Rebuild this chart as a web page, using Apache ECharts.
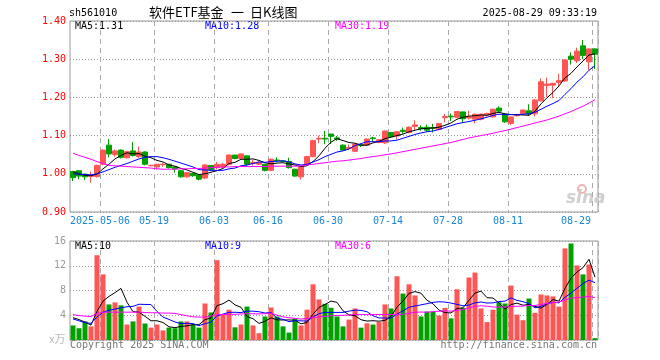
<!DOCTYPE html>
<html><head><meta charset="utf-8">
<script src="https://cdn.jsdelivr.net/npm/echarts@6/dist/echarts.min.js"></script>
<style>html,body{margin:0;padding:0;background:#fff}#c{width:660px;height:360px}</style>
</head><body><div id="c"></div>
<script>
var dates = ['2025-04-24','2025-04-25','2025-04-28','2025-04-29','2025-04-30',
'2025-05-06','2025-05-07','2025-05-08','2025-05-09',
'2025-05-12','2025-05-13','2025-05-14','2025-05-15','2025-05-16',
'2025-05-19','2025-05-20','2025-05-21','2025-05-22','2025-05-23',
'2025-05-26','2025-05-27','2025-05-28','2025-05-29','2025-05-30',
'2025-06-03','2025-06-04','2025-06-05','2025-06-06',
'2025-06-09','2025-06-10','2025-06-11','2025-06-12','2025-06-13',
'2025-06-16','2025-06-17','2025-06-18','2025-06-19','2025-06-20',
'2025-06-23','2025-06-24','2025-06-25','2025-06-26','2025-06-27',
'2025-06-30','2025-07-01','2025-07-02','2025-07-03','2025-07-04',
'2025-07-07','2025-07-08','2025-07-09','2025-07-10','2025-07-11',
'2025-07-14','2025-07-15','2025-07-16','2025-07-17','2025-07-18',
'2025-07-21','2025-07-22','2025-07-23','2025-07-24','2025-07-25',
'2025-07-28','2025-07-29','2025-07-30','2025-07-31','2025-08-01',
'2025-08-04','2025-08-05','2025-08-06','2025-08-07','2025-08-08',
'2025-08-11','2025-08-12','2025-08-13','2025-08-14','2025-08-15',
'2025-08-18','2025-08-19','2025-08-20','2025-08-21','2025-08-22',
'2025-08-25','2025-08-26','2025-08-27','2025-08-28','2025-08-29'];

var openP = [1.006,1.008,0.999,0.993,0.993, 1.025,1.075,1.050,1.062, 1.042,1.060,1.045,1.057,1.021,
1.018,1.024,1.025,1.018,1.008, 0.992,1.001,0.997,0.989,1.022, 1.016,1.018,1.025,1.049,
1.040,1.047,1.027,1.025,1.025, 1.009,1.036,1.034,1.032,1.012, 0.992,1.025,1.045,1.091,1.093,
1.104,1.094,1.075,1.066,1.059, 1.076,1.075,1.094,1.082,1.081, 1.108,1.099,1.114,1.108,1.124,
1.121,1.122,1.121,1.116,1.147, 1.151,1.148,1.162,1.146,1.143, 1.143,1.154,1.149,1.172,1.156,
1.132,1.152,1.157,1.165,1.157, 1.191,1.231,1.232,1.239,1.243, 1.308,1.296,1.335,1.293,1.327];
var closeP = [0.990,0.994,0.992,0.997,1.022, 1.062,1.052,1.060,1.043, 1.058,1.048,1.057,1.025,1.022,
1.025,1.025,1.016,1.013,0.992, 1.003,0.995,0.986,1.023,1.011, 1.025,1.025,1.049,1.040,
1.052,1.025,1.030,1.030,1.009, 1.038,1.034,1.032,1.016,0.994, 1.018,1.045,1.087,1.093,1.091,
1.098,1.091,1.062,1.069,1.078, 1.074,1.091,1.092,1.089,1.112, 1.097,1.110,1.111,1.122,1.128,
1.118,1.114,1.119,1.132,1.150, 1.149,1.163,1.144,1.149,1.156, 1.156,1.158,1.169,1.164,1.136,
1.149,1.155,1.167,1.157,1.193, 1.241,1.235,1.237,1.244,1.298, 1.300,1.321,1.310,1.327,1.313];
var lowP = [0.981,0.986,0.984,0.977,0.990, 1.022,1.043,1.045,1.040, 1.040,1.045,1.042,1.022,1.020,
1.011,1.018,1.014,1.003,0.990, 0.990,0.992,0.983,0.986,1.008, 1.012,1.015,1.022,1.038,
1.037,1.018,1.022,1.023,1.006, 1.007,1.030,1.030,1.014,0.992, 0.985,1.023,1.043,1.080,1.077,
1.078,1.086,1.060,1.062,1.057, 1.070,1.073,1.085,1.080,1.078, 1.095,1.090,1.105,1.106,1.112,
1.113,1.110,1.108,1.114,1.135, 1.138,1.146,1.135,1.142,1.132, 1.140,1.150,1.147,1.162,1.133,
1.128,1.150,1.155,1.153,1.150, 1.189,1.200,1.198,1.230,1.241, 1.286,1.290,1.300,1.272,1.274];
var highP = [1.008,1.010,1.001,1.006,1.024, 1.064,1.091,1.064,1.064, 1.060,1.083,1.071,1.059,1.024,
1.026,1.028,1.026,1.019,1.010, 1.004,1.002,0.999,1.025,1.023, 1.031,1.028,1.051,1.050,
1.053,1.048,1.036,1.032,1.026, 1.040,1.043,1.036,1.042,1.013, 1.019,1.047,1.089,1.100,1.112,
1.105,1.099,1.077,1.077,1.079, 1.079,1.092,1.097,1.091,1.113, 1.110,1.111,1.121,1.124,1.140,
1.127,1.129,1.131,1.133,1.157, 1.158,1.164,1.163,1.165,1.158, 1.158,1.160,1.170,1.177,1.157,
1.150,1.157,1.168,1.182,1.195, 1.250,1.252,1.238,1.262,1.300, 1.318,1.330,1.350,1.328,1.328];

var ma5 = [1.005,1.000,0.996,0.995,0.999, 1.013,1.025,1.039,1.048, 1.055,1.052,1.053,1.046,1.042,
1.035,1.031,1.023,1.020,1.014, 1.010,1.004,0.998,1.000,1.004, 1.008,1.014,1.027,1.030,
1.038,1.038,1.039,1.035,1.029, 1.026,1.028,1.029,1.026,1.023, 1.019,1.021,1.032,1.047,1.067,
1.083,1.092,1.087,1.082,1.080, 1.075,1.075,1.081,1.085,1.092, 1.096,1.100,1.104,1.110,1.114,
1.118,1.119,1.120,1.122,1.127, 1.133,1.143,1.148,1.151,1.152, 1.154,1.153,1.158,1.161,1.157,
1.155,1.155,1.154,1.153,1.164, 1.183,1.199,1.213,1.230,1.251, 1.263,1.280,1.295,1.311,1.314];
var ma10 = [1.000,0.999,0.998,0.997,1.000, 1.005,1.011,1.017,1.022, 1.027,1.033,1.039,1.043,1.045,
1.045,1.042,1.038,1.033,1.028, 1.023,1.018,1.011,1.010,1.009, 1.009,1.009,1.013,1.015,
1.021,1.023,1.027,1.031,1.030, 1.032,1.033,1.034,1.031,1.026, 1.023,1.025,1.031,1.037,1.045,
1.051,1.057,1.060,1.065,1.074, 1.079,1.084,1.084,1.084,1.086, 1.086,1.088,1.093,1.098,1.103,
1.107,1.110,1.112,1.116,1.121, 1.126,1.131,1.134,1.137,1.140, 1.144,1.148,1.153,1.156,1.155,
1.155,1.154,1.156,1.157,1.161, 1.169,1.177,1.184,1.192,1.208, 1.223,1.240,1.254,1.271,1.283];
var ma30 = [1.054,1.048,1.043,1.038,1.032, 1.027,1.022,1.021,1.020, 1.019,1.018,1.017,1.016,1.015,
1.013,1.012,1.012,1.012,1.013, 1.013,1.014,1.014,1.015,1.016, 1.017,1.018,1.018,1.019,
1.019,1.019,1.019,1.019,1.019, 1.020,1.020,1.020,1.020,1.020, 1.021,1.023,1.025,1.027,1.029,
1.031,1.033,1.034,1.036,1.038, 1.040,1.043,1.045,1.047,1.050, 1.052,1.055,1.058,1.061,1.064,
1.067,1.070,1.073,1.076,1.079, 1.082,1.086,1.090,1.094,1.097, 1.100,1.103,1.106,1.110,1.113,
1.117,1.121,1.125,1.129,1.133, 1.137,1.141,1.146,1.151,1.157, 1.163,1.170,1.177,1.185,1.194];

var volume = [2.35,1.9,3.0,2.2,13.7, 10.6,5.75,6.07,5.6, 2.5,3.0,5.4,2.67,2.0,
2.5,1.55,2.0,1.9,3.0, 3.0,2.5,2.0,5.9,4.45, 12.9,4.1,4.9,2.05,
2.5,5.4,2.35,1.1,3.8, 5.25,3.8,2.2,1.2,3.5, 2.35,4.9,9.0,6.55,5.85,
5.2,3.8,2.2,3.3,5.1, 2.0,2.7,2.5,2.9,5.75, 5.1,10.3,7.5,9.0,7.2,
3.8,4.6,4.6,3.95,5.2, 3.5,8.2,5.2,10.1,10.9, 5.1,2.9,4.9,6.1,5.9,
8.8,4.1,3.2,6.7,4.4, 7.35,7.2,7.05,5.4,14.8, 15.6,12.05,10.6,12.2,0.3];
var vma5 = [3.6,3.3,2.9,2.4,4.63, 6.28,7.05,7.66,8.34, 6.10,4.58,4.51,3.83,3.11,
3.11,2.82,2.14,1.99,2.19, 2.29,2.48,2.48,3.28,3.57, 5.55,5.87,6.45,5.68,
5.29,3.79,3.44,2.68,3.03, 3.58,3.26,3.23,3.25,3.19, 2.61,2.83,4.19,5.26,5.73,
6.30,6.08,4.72,4.07,3.92, 3.28,3.06,3.12,3.04,3.17, 3.79,5.31,6.31,7.53,7.82,
7.56,6.42,5.84,4.83,4.43, 4.37,5.09,5.21,6.44,7.58, 7.90,6.84,6.78,5.98,4.98,
5.72,5.96,5.62,5.74,5.44, 5.15,5.77,6.54,6.28,8.36, 10.01,10.98,11.69,13.05,10.15];
var vma10 = [3.4,3.1,2.8,2.7,3.7, 4.5,4.8,5.0,5.2, 5.37,5.43,5.78,5.75,5.73,
4.61,3.70,3.33,2.91,2.65, 2.70,2.65,2.31,2.64,2.88, 3.92,4.18,4.47,4.48,
4.43,4.67,4.66,4.57,4.36, 4.44,3.53,3.34,2.97,3.11, 3.10,3.05,3.71,4.26,4.46,
4.46,4.46,4.46,4.67,4.83, 4.79,4.57,3.92,3.56,3.55, 3.54,4.19,4.72,5.29,5.50,
5.68,5.87,6.08,6.18,6.13, 5.97,5.76,5.53,5.64,6.01, 6.14,5.97,6.00,6.21,6.28,
6.81,6.40,6.20,5.86,5.21, 5.44,5.87,6.08,6.01,6.90, 7.58,8.38,9.12,9.67,9.26];
var vma30 = [4.1,3.95,3.85,3.8,4.3, 4.5,4.5,4.5,4.5, 4.5,4.5,4.5,4.45,4.4,
4.4,4.35,4.35,4.3,4.1, 3.9,3.75,3.7,3.7,3.85, 4.1,4.1,4.15,4.15,
4.2,4.25,4.25,4.22,4.25, 4.35,4.02,3.74,3.59,3.50, 3.39,3.47,3.67,3.71,3.82,
3.92,3.97,3.99,4.03,4.14, 4.11,4.10,4.10,4.13,4.12, 4.14,4.06,4.17,4.31,4.48,
4.52,4.49,4.57,4.66,4.71, 4.65,4.80,4.90,5.20,5.44, 5.53,5.47,5.33,5.32,5.32,
5.44,5.45,5.48,5.59,5.57, 5.75,5.90,6.05,6.13,6.44, 6.79,6.84,6.95,7.05,6.82];

var tickDates = ['2025-05-06','2025-05-19','2025-06-03','2025-06-16','2025-06-30','2025-07-14','2025-07-28','2025-08-11','2025-08-29'];
var tickLabels = ['2025-05-06','05-19','06-03','06-16','06-30','07-14','07-28','08-11','08-29'];
var priceTicks = [0.9,1.0,1.1,1.2,1.3,1.4];
var volTicks = [0,4,8,12,16];

var UP = '#ff5555', DOWN = '#00a000';
var MONO = '"DejaVu Sans Mono", "Liberation Mono", monospace';
var CJK = '"Noto Sans CJK SC", sans-serif';
var tickIdx = tickDates.map(function(d){return dates.indexOf(d);});
function isTick(i){ return tickIdx.indexOf(i) >= 0; }

var chart = echarts.init(document.getElementById('c'), null, {renderer:'canvas'});
var xBase = function(grid, showLabel){
  return {
    type:'category', gridIndex:grid, data:dates, boundaryGap:true,
    axisLine:{show:false}, axisTick:{show:false},
    axisLabel:{show:showLabel, interval:function(i){return isTick(i);},
      formatter:function(v, i){
        var k = tickDates.indexOf(v);
        if (k < 0) return '';
        return (k === tickDates.length-1 ? '{e|' : '{n|') + tickLabels[k] + '}';
      },
      color:'#1c86d6', fontFamily:MONO, fontSize:10, margin:4,
      rich:{
        n:{color:'#1c86d6', fontFamily:MONO, fontSize:10, padding:[0,6,0,0]},
        e:{color:'#1c86d6', fontFamily:MONO, fontSize:10, padding:[0,38,0,0]}
      }},
    splitLine:{show:true, interval:function(i){return isTick(i);},
      lineStyle:{type:[5,4], color:'#aaaaaa', width:1}}
  };
};

var option = {
  animation:false,
  backgroundColor:'#ffffff',
  grid:[
    {left:70, top:21, width:528, height:191, show:true, borderColor:'#999999', borderWidth:1, backgroundColor:'transparent'},
    {left:70, top:241, width:528, height:99, show:true, borderColor:'#999999', borderWidth:1, backgroundColor:'transparent'}
  ],
  xAxis:[xBase(0,true), xBase(1,false)],
  yAxis:[
    {type:'value', gridIndex:0, min:priceTicks[0], max:priceTicks[priceTicks.length-1], interval:0.1,
      axisLine:{show:false}, axisTick:{show:false},
      axisLabel:{color:'#ff0000', fontFamily:MONO, fontSize:10, margin:4,
        formatter:function(v){return v.toFixed(2);}},
      splitLine:{show:true, lineStyle:{type:[1,2], color:'#999999'}}},
    {type:'value', gridIndex:1, min:volTicks[0], max:volTicks[volTicks.length-1], interval:4,
      axisLine:{show:false}, axisTick:{show:false},
      axisLabel:{color:'#999999', fontFamily:MONO, fontSize:10, margin:4,
        formatter:function(v){return v === 0 ? '' : String(v);}},
      splitLine:{show:true, lineStyle:{type:[1,2], color:'#999999'}}}
  ],
  series:[
    {type:'candlestick', xAxisIndex:0, yAxisIndex:0, barWidth:5,
      data:dates.map(function(d,i){return [openP[i], closeP[i], lowP[i], highP[i]];}),
      itemStyle:{color:UP, color0:DOWN, borderColor:UP, borderColor0:DOWN, borderWidth:1}},
    {type:'line', xAxisIndex:0, yAxisIndex:0, data:ma5, symbol:'none', lineStyle:{color:'#000000', width:1}},
    {type:'line', xAxisIndex:0, yAxisIndex:0, data:ma10, symbol:'none', lineStyle:{color:'#0000ff', width:1}},
    {type:'line', xAxisIndex:0, yAxisIndex:0, data:ma30, symbol:'none', lineStyle:{color:'#ff00ff', width:1}},
    {type:'bar', xAxisIndex:1, yAxisIndex:1, barWidth:5,
      data:volume.map(function(v,i){return {value:v, itemStyle:{color: closeP[i] >= openP[i] ? UP : DOWN}};})},
    {type:'line', xAxisIndex:1, yAxisIndex:1, data:vma5, symbol:'none', lineStyle:{color:'#000000', width:1}},
    {type:'line', xAxisIndex:1, yAxisIndex:1, data:vma10, symbol:'none', lineStyle:{color:'#0000ff', width:1}},
    {type:'line', xAxisIndex:1, yAxisIndex:1, data:vma30, symbol:'none', lineStyle:{color:'#ff00ff', width:1}}
  ],
  graphic:[
    {type:'text', x:69, y:13, style:{text:'sh561010', fill:'#000', font:'10px '+MONO, textVerticalAlign:'middle'}},
    {type:'text', x:149, y:12, style:{text:'软件ETF基金', fill:'#000', font:'13px '+CJK, textVerticalAlign:'middle'}},
    {type:'text', x:231, y:12, style:{text:'一', fill:'#000', font:'13px '+CJK, textVerticalAlign:'middle'}},
    {type:'text', x:250, y:12, style:{text:'日K线图', fill:'#000', font:'13px '+CJK, textVerticalAlign:'middle'}},
    {type:'text', x:597, y:13, style:{text:'2025-08-29 09:33:19', fill:'#000', font:'10px '+MONO, textAlign:'right', textVerticalAlign:'middle'}},
    {type:'text', x:75, y:26.5, style:{text:'MA5:' + ma5[ma5.length-1].toFixed(2), fill:'#000000', font:'10px '+MONO, textVerticalAlign:'middle'}},
    {type:'text', x:205, y:26.5, style:{text:'MA10:' + ma10[ma10.length-1].toFixed(2), fill:'#0000ff', font:'10px '+MONO, textVerticalAlign:'middle'}},
    {type:'text', x:335, y:26.5, style:{text:'MA30:' + ma30[ma30.length-1].toFixed(2), fill:'#ff00ff', font:'10px '+MONO, textVerticalAlign:'middle'}},
    {type:'text', x:75, y:246.5, style:{text:'MA5:' + Math.floor(vma5[vma5.length-1]), fill:'#000000', font:'10px '+MONO, textVerticalAlign:'middle'}},
    {type:'text', x:205, y:246.5, style:{text:'MA10:' + Math.floor(vma10[vma10.length-1]), fill:'#0000ff', font:'10px '+MONO, textVerticalAlign:'middle'}},
    {type:'text', x:335, y:246.5, style:{text:'MA30:' + Math.floor(vma30[vma30.length-1]), fill:'#ff00ff', font:'10px '+MONO, textVerticalAlign:'middle'}},
    {type:'text', x:49, y:339, style:{text:'x万', fill:'#bbbbbb', font:'11px '+CJK, textVerticalAlign:'middle'}},
    {type:'text', x:70, y:345.5, style:{text:'Copyright 2025 SINA.COM', fill:'#777777', font:'10px '+MONO, textVerticalAlign:'middle'}},
    {type:'text', x:597, y:345.5, style:{text:'http://finance.sina.com.cn', fill:'#777777', font:'10px '+MONO, textAlign:'right', textVerticalAlign:'middle'}},
    {type:'circle', shape:{cx:582, cy:189, r:4}, style:{fill:'none', stroke:'#f2b3b3', lineWidth:2}},
    {type:'text', x:566, y:199, style:{text:'sina', fill:'#cfcfcf', font:'italic bold 17px "DejaVu Sans"', textVerticalAlign:'middle'}}
  ]
};
chart.setOption(option);
</script>
</body></html>
